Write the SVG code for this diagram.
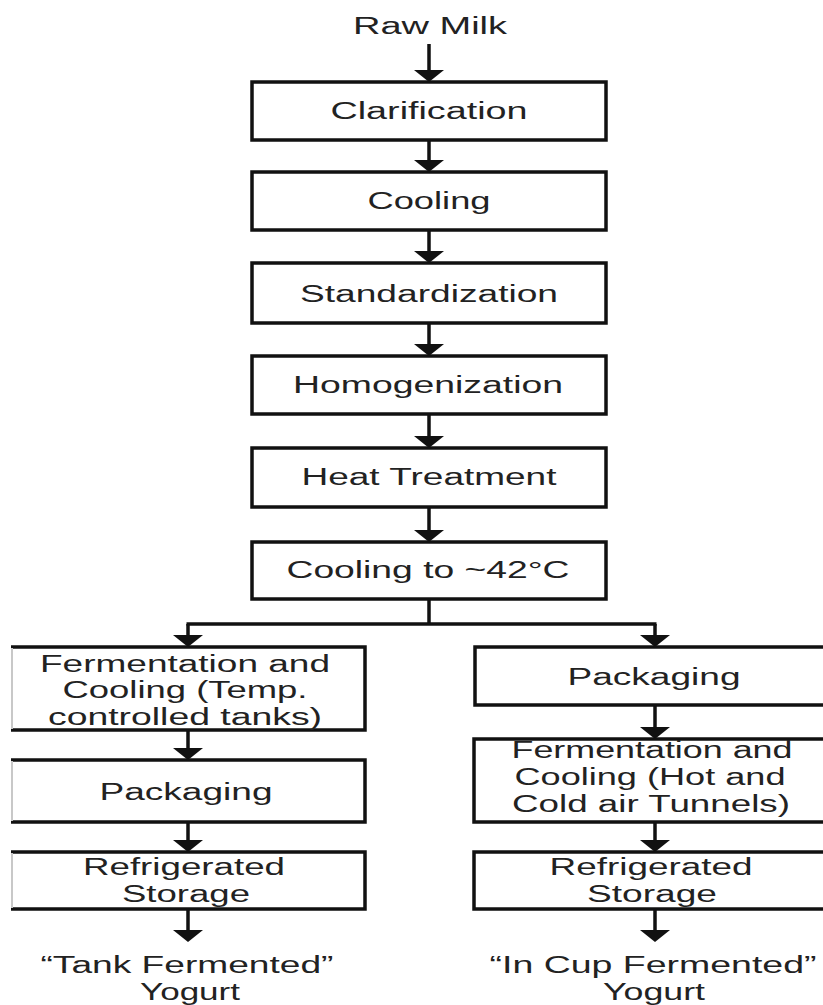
<svg xmlns="http://www.w3.org/2000/svg" width="823" height="1005" viewBox="0 0 823 1005">
<style>
  .box { fill: #ffffff; stroke: #111111; stroke-width: 3.5; }
  .edge { fill: none; stroke: #111111; stroke-width: 3.5; }
  .faint { fill: none; stroke: #c8c8c8; stroke-width: 2; }
  .t { font-family: "Liberation Sans", Arial, sans-serif; font-size: 23px; fill: #222222; text-anchor: middle; }
  .conn { fill: none; stroke: #111111; stroke-width: 3.5; }
</style>
<defs>
  <marker id="ah" markerUnits="userSpaceOnUse" viewBox="0 -15 12 30" markerWidth="12" markerHeight="30" refX="9" refY="0" orient="auto">
    <path d="M0,-15 L12,0 L0,15 Z" fill="#111111"/>
  </marker>
</defs>
<rect width="823" height="1005" fill="#ffffff"/>

<g id="connectors">
  <path class="conn" d="M429,44 V79" marker-end="url(#ah)"/>
  <path class="conn" d="M429,140 V169" marker-end="url(#ah)"/>
  <path class="conn" d="M429,230 V260" marker-end="url(#ah)"/>
  <path class="conn" d="M429,323 V353" marker-end="url(#ah)"/>
  <path class="conn" d="M429,414 V445" marker-end="url(#ah)"/>
  <path class="conn" d="M429,507 V539" marker-end="url(#ah)"/>
  <path class="conn" d="M429,599 V624"/>
  <path class="conn" d="M186.5,624 H656.5"/>
  <path class="conn" d="M188,624 V644" marker-end="url(#ah)"/>
  <path class="conn" d="M655,624 V644" marker-end="url(#ah)"/>
  <path class="conn" d="M188,730 V757" marker-end="url(#ah)"/>
  <path class="conn" d="M188,822 V849" marker-end="url(#ah)"/>
  <path class="conn" d="M188,909 V939" marker-end="url(#ah)"/>
  <path class="conn" d="M655,705 V736" marker-end="url(#ah)"/>
  <path class="conn" d="M655,822 V849" marker-end="url(#ah)"/>
  <path class="conn" d="M655,909 V939" marker-end="url(#ah)"/>
</g>

<g id="raw-milk">
  <text class="t" x="430" y="34" textLength="154" lengthAdjust="spacingAndGlyphs">Raw Milk</text>
</g>
<g id="clarification">
  <rect class="box" x="252" y="82" width="354" height="58"/>
  <text class="t" x="429" y="119" textLength="197" lengthAdjust="spacingAndGlyphs">Clarification</text>
</g>
<g id="cooling">
  <rect class="box" x="252" y="172" width="354" height="58"/>
  <text class="t" x="429" y="209" textLength="123" lengthAdjust="spacingAndGlyphs">Cooling</text>
</g>
<g id="standardization">
  <rect class="box" x="252" y="263" width="354" height="60"/>
  <text class="t" x="429" y="302" textLength="258" lengthAdjust="spacingAndGlyphs">Standardization</text>
</g>
<g id="homogenization">
  <rect class="box" x="252" y="356" width="354" height="58"/>
  <text class="t" x="428" y="393" textLength="270" lengthAdjust="spacingAndGlyphs">Homogenization</text>
</g>
<g id="heat-treatment">
  <rect class="box" x="252" y="448" width="354" height="59"/>
  <text class="t" x="429" y="485" textLength="255" lengthAdjust="spacingAndGlyphs">Heat Treatment</text>
</g>
<g id="cooling-42">
  <rect class="box" x="252" y="542" width="354" height="57"/>
  <text class="t" x="428" y="578" textLength="283" lengthAdjust="spacingAndGlyphs">Cooling to ~42°C</text>
</g>

<g id="tank-fermentation">
  <rect x="12" y="647" width="353" height="83" fill="#ffffff"/>
  <path class="edge" d="M11,647 H365 V730 H11"/>
  <path class="faint" d="M12,648 V729"/>
  <text class="t" x="185" y="672" textLength="290" lengthAdjust="spacingAndGlyphs">Fermentation and</text>
  <text class="t" x="185" y="698" textLength="245" lengthAdjust="spacingAndGlyphs">Cooling (Temp.</text>
  <text class="t" x="185" y="725" textLength="274" lengthAdjust="spacingAndGlyphs">controlled tanks)</text>
</g>
<g id="tank-packaging">
  <rect x="12" y="760" width="353" height="62" fill="#ffffff"/>
  <path class="edge" d="M11,760 H365 V822 H11"/>
  <path class="faint" d="M12,761 V821"/>
  <text class="t" x="186" y="800" textLength="173" lengthAdjust="spacingAndGlyphs">Packaging</text>
</g>
<g id="tank-storage">
  <rect x="12" y="852" width="353" height="57" fill="#ffffff"/>
  <path class="edge" d="M11,852 H365 V909 H11"/>
  <path class="faint" d="M12,853 V908"/>
  <text class="t" x="184" y="875" textLength="202" lengthAdjust="spacingAndGlyphs">Refrigerated</text>
  <text class="t" x="186" y="902" textLength="128" lengthAdjust="spacingAndGlyphs">Storage</text>
</g>
<g id="tank-yogurt">
  <text class="t" x="187" y="973" textLength="293" lengthAdjust="spacingAndGlyphs">“Tank Fermented”</text>
  <text class="t" x="190" y="1000" textLength="100" lengthAdjust="spacingAndGlyphs">Yogurt</text>
</g>

<g id="cup-packaging">
  <rect class="box" x="475" y="647" width="360" height="58"/>
  <text class="t" x="654" y="685" textLength="173" lengthAdjust="spacingAndGlyphs">Packaging</text>
</g>
<g id="cup-fermentation">
  <rect class="box" x="474" y="739" width="360" height="83"/>
  <text class="t" x="652" y="758" textLength="281" lengthAdjust="spacingAndGlyphs">Fermentation and</text>
  <text class="t" x="650" y="785" textLength="271" lengthAdjust="spacingAndGlyphs">Cooling (Hot and</text>
  <text class="t" x="651" y="812" textLength="278" lengthAdjust="spacingAndGlyphs">Cold air Tunnels)</text>
</g>
<g id="cup-storage">
  <rect class="box" x="474" y="852" width="360" height="57"/>
  <text class="t" x="651" y="875" textLength="203" lengthAdjust="spacingAndGlyphs">Refrigerated</text>
  <text class="t" x="652" y="902" textLength="130" lengthAdjust="spacingAndGlyphs">Storage</text>
</g>
<g id="cup-yogurt">
  <text class="t" x="653" y="973" textLength="327" lengthAdjust="spacingAndGlyphs">“In Cup Fermented”</text>
  <text class="t" x="654" y="1000" textLength="102" lengthAdjust="spacingAndGlyphs">Yogurt</text>
</g>
</svg>
